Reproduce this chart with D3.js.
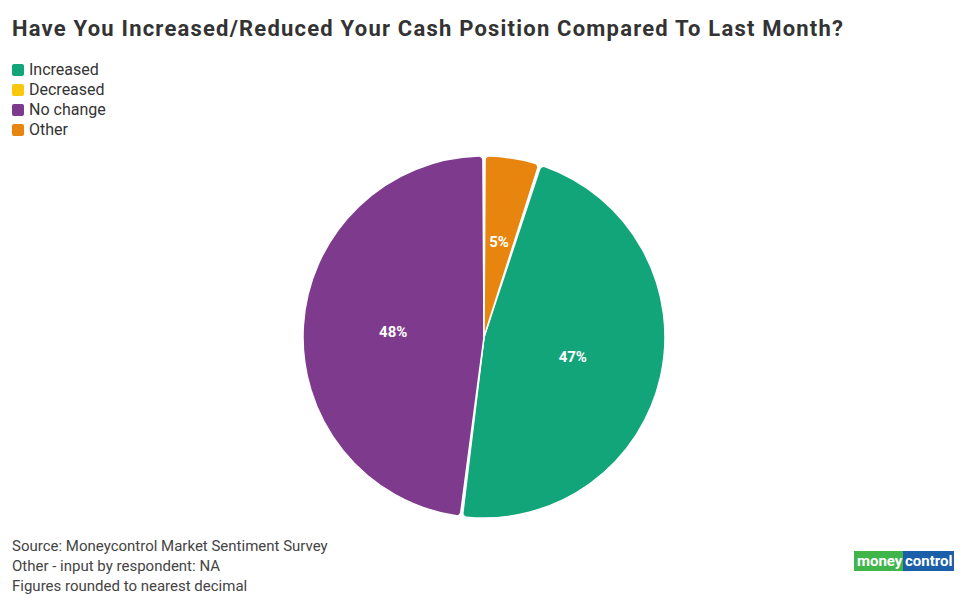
<!DOCTYPE html>
<html><head><meta charset="utf-8">
<script src="https://cdn.jsdelivr.net/npm/d3@7"></script>
<style>body{margin:0;background:#fff;font-family:"Source Sans Pro","Roboto","Noto Sans",sans-serif}</style>
</head><body><svg id="c" width="965" height="600"></svg>
<script>
const categories=["Increased","Decreased","No change","Other"];
const values=[47,0,48,5];
const colors=["#13a57a","#f9c80e","#7e3a8c","#e8850f"];
const labels=["47%","0%","48%","5%"];
const notes=["Source: Moneycontrol Market Sentiment Survey","Other - input by respondent: NA","Figures rounded to nearest decimal"];
const svg=d3.select("#c");
svg.append("text").attr("x",12).attr("y",36).attr("font-size",22).attr("font-weight",700).attr("fill","#333").attr("textLength",831).text("Have You Increased/Reduced Your Cash Position Compared To Last Month?");
const lg=svg.append("g");
categories.forEach((c,i)=>{const g=lg.append("g").attr("transform",`translate(12,${64+i*20})`);
g.append("rect").attr("width",12).attr("height",12).attr("rx",2).attr("fill",colors[i]);
g.append("text").attr("x",17).attr("y",11).attr("font-size",16).attr("fill","#333").text(c);});
const s0=0.05*2*Math.PI;
const pie=d3.pie().sort(null).value(d=>d).startAngle(s0).endAngle(s0+2*Math.PI);
const arcs=pie(values);
const arc=d3.arc().innerRadius(0).outerRadius(181).cornerRadius(4).padAngle(0.012);
const pg=svg.append("g").attr("transform","translate(484,337)");
pg.selectAll("path").data(arcs).join("path").attr("d",arc).attr("fill",(d,i)=>colors[i]).attr("stroke","#fff").attr("stroke-width",1.5);
pg.selectAll("text").data(arcs).join("text").filter(d=>d.value>0)
 .attr("transform",d=>{const a=(d.startAngle+d.endAngle)/2;const r=d.value<10?96:91;return `translate(${Math.sin(a)*r},${-Math.cos(a)*r})`;})
 .attr("text-anchor","middle").attr("dy","0.35em").attr("font-size",15).attr("font-weight",700).attr("fill","#fff").text(d=>labels[d.index]);
notes.forEach((n,i)=>svg.append("text").attr("x",12).attr("y",551+i*20).attr("font-size",15).attr("fill","#444").text(n));
const lo=svg.append("g").attr("transform","translate(854,551)");
lo.append("rect").attr("width",49).attr("height",20).attr("fill","#3fb54a");
lo.append("rect").attr("x",49).attr("width",51).attr("height",20).attr("fill","#1a5fa8");
lo.append("text").attr("x",3).attr("y",15).attr("font-size",15).attr("font-weight",700).attr("fill","#fff").text("money");
lo.append("text").attr("x",51).attr("y",15).attr("font-size",15).attr("font-weight",700).attr("fill","#fff").text("control");
</script></body></html>
